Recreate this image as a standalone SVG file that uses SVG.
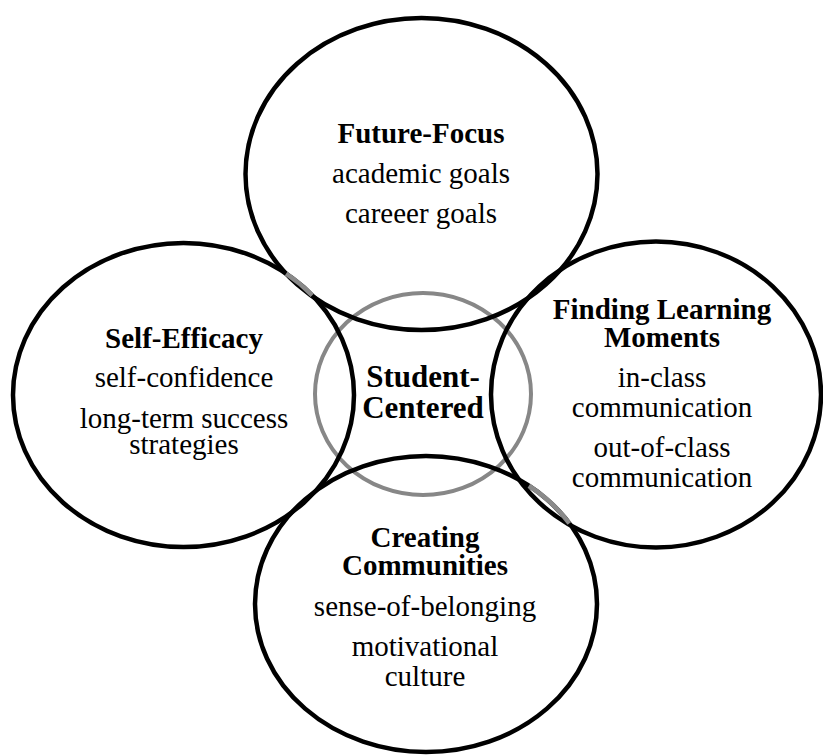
<svg xmlns="http://www.w3.org/2000/svg" width="823" height="756" viewBox="0 0 823 756">
<style>
.ring{fill:none;stroke:#000;stroke-width:4.5}
.core{fill:none;stroke:#878787;stroke-width:4}
.seg{fill:none;stroke:#8a8a8a;stroke-width:4.6}
text{font-family:"Liberation Serif","Times New Roman",serif;text-anchor:middle;fill:#000}
.t{font-size:29px;font-weight:bold}
.c{font-size:31px;font-weight:bold}
.b{font-size:29px}
</style>
<rect width="823" height="756" fill="#fff"/>
<g id="student-centered">
<ellipse class="core" cx="423" cy="394" rx="108" ry="101"/>
<text class="c" x="423" y="387">Student-</text>
<text class="c" x="423" y="418">Centered</text>
</g>
<g id="future-focus">
<ellipse class="ring" cx="421.5" cy="174" rx="176" ry="156"/>
<text class="t" x="421" y="143">Future-Focus</text>
<text class="b" x="421" y="183">academic goals</text>
<text class="b" x="421" y="223">careeer goals</text>
</g>
<g id="self-efficacy">
<ellipse class="ring" cx="183.5" cy="395" rx="170.5" ry="152"/>
<text class="t" x="184" y="348">Self-Efficacy</text>
<text class="b" x="184" y="387">self-confidence</text>
<text class="b" x="184" y="428">long-term success</text>
<text class="b" x="184" y="454">strategies</text>
</g>
<g id="finding-learning-moments">
<ellipse class="ring" cx="656" cy="394.5" rx="165" ry="153"/>
<text class="t" x="662" y="319">Finding Learning</text>
<text class="t" x="662" y="347">Moments</text>
<text class="b" x="662" y="387">in-class</text>
<text class="b" x="662" y="417">communication</text>
<text class="b" x="662" y="457">out-of-class</text>
<text class="b" x="662" y="487">communication</text>
</g>
<g id="creating-communities">
<ellipse class="ring" cx="426" cy="604" rx="171" ry="148"/>
<text class="t" x="425" y="547">Creating</text>
<text class="t" x="425" y="575">Communities</text>
<text class="b" x="425" y="616">sense-of-belonging</text>
<text class="b" x="425" y="656">motivational</text>
<text class="b" x="425" y="686">culture</text>
</g>
<g id="grey-segments">
<path class="seg" d="M286.1,273.6 A170.5,152 0 0 1 312.2,295.3"/>
<path class="seg" d="M528.9,485.8 A171,148 0 0 1 569.4,523.4"/>
</g>
<g id="connectors"></g>
</svg>
